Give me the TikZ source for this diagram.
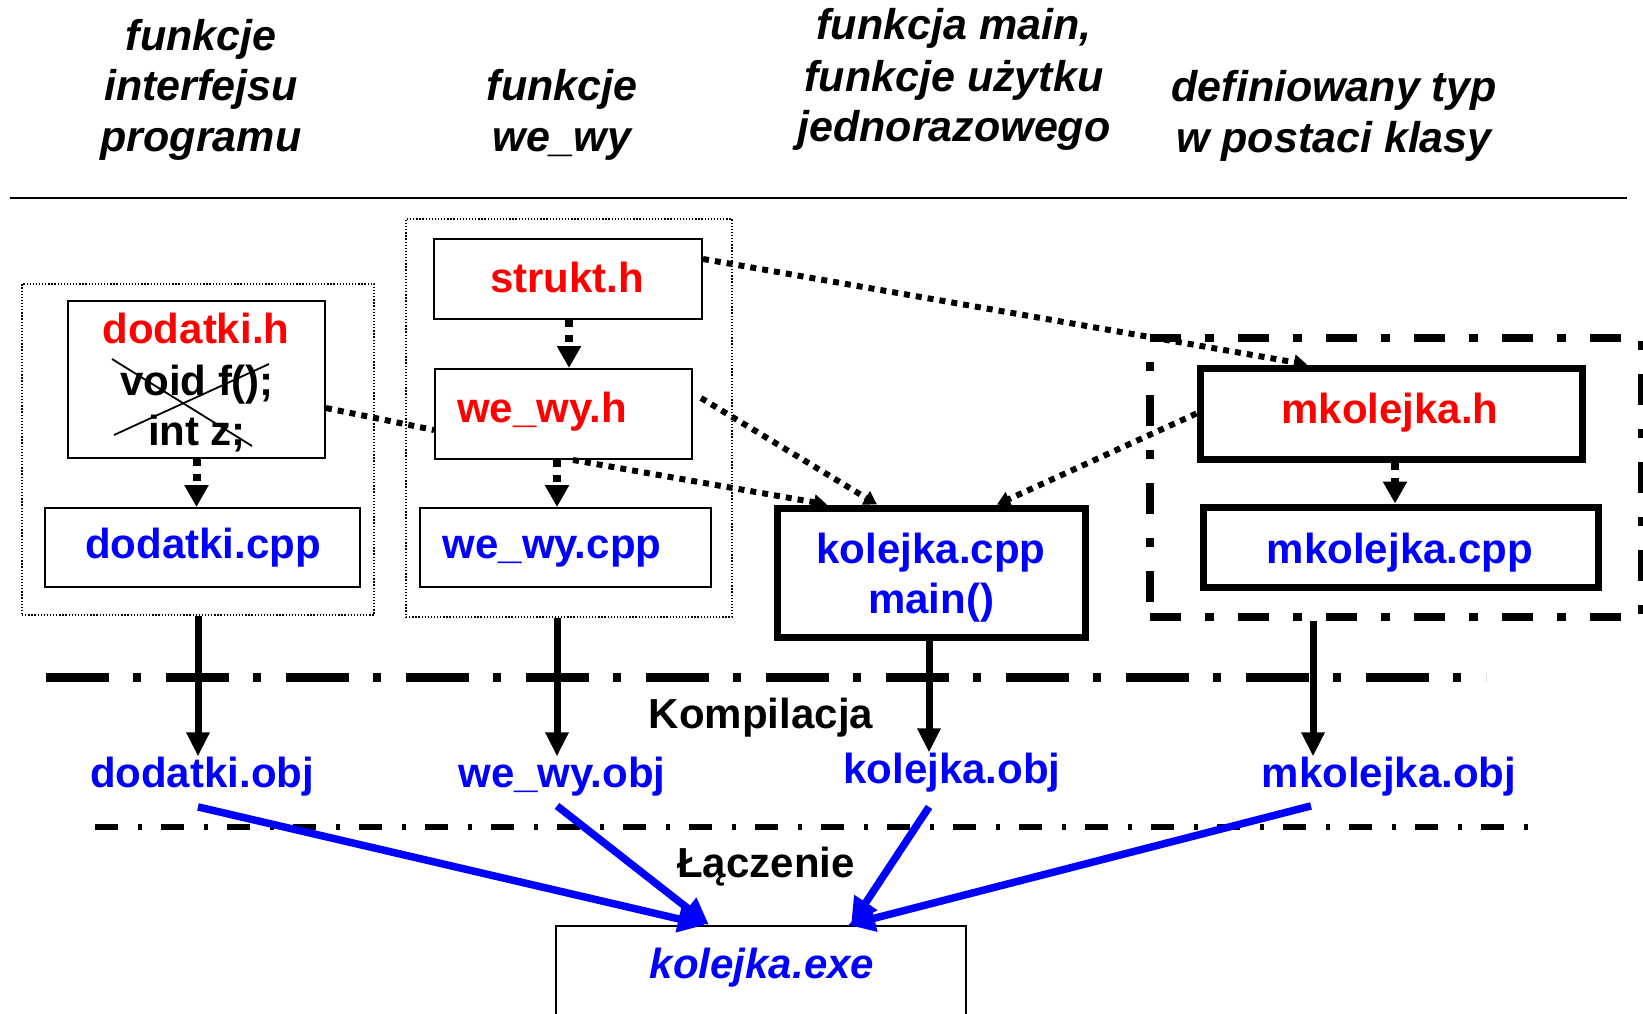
\documentclass[tikz,border=0pt]{standalone}
\usepackage{fontspec}
\setmainfont{Liberation Sans}
\usetikzlibrary{arrows.meta,calc}
\definecolor{fred}{RGB}{255,0,0}
\definecolor{fblue}{RGB}{0,0,255}
\begin{document}
\begin{tikzpicture}[x=1pt,y=-1pt,
  box/.style={draw=black, line width=2pt, rectangle, inner sep=0pt},
  thickbox/.style={draw=black, line width=7pt, rectangle, inner sep=0pt},
  grp/.style={draw=black, line width=1.2pt, dash pattern=on 1.3pt off 1.8pt, rectangle, inner sep=0pt},
  dashgrp/.style={draw=black, line width=8pt, dash pattern=on 31pt off 24pt on 9pt off 24pt, rectangle, inner sep=0pt},
  lbl/.style={anchor=base, inner sep=0pt, font=\fontsize{42}{48}\selectfont\bfseries},
  hdr/.style={anchor=base, inner sep=0pt, font=\fontsize{43}{50}\selectfont\bfseries\itshape},
  vdot/.style={line width=8pt, dash pattern=on 7pt off 8pt, -{Triangle[length=22pt,width=23pt]}},
  ddot/.style={line width=6pt, dash pattern=on 6pt off 6pt},
  ddarr/.style={ddot, -{Triangle[length=13pt,width=15pt]}},
  comp/.style={line width=7pt, -{Triangle[length=24pt,width=22pt]}},
  link/.style={draw=fblue, line width=7.5pt, -{Triangle[length=27pt,width=26pt]}},
]
\clip (0,0) rectangle (1643,1014);
\fill[white] (0,0) rectangle (1643,1014);

% headers
\node[hdr] (h1a) at (201,51) {funkcje};
\node[hdr] (h1b) at (201,101) {interfejsu};
\node[hdr] (h1c) at (201,151) {programu};
\node[hdr] (h2a) at (562,101) {funkcje};
\node[hdr] (h2b) at (562,151) {we\_wy};
\node[hdr] (h3a) at (954,40) {funkcja main,};
\node[hdr] (h3b) at (954,92) {funkcje użytku};
\node[hdr] (h3c) at (954,142) {jednorazowego};
\node[hdr] (h4a) at (1334,102) {definiowany typ};
\node[hdr] (h4b) at (1334,152) {w postaci klasy};
\coordinate (topL) at (10,198);
\coordinate (topR) at (1627,198);
\draw[line width=2.5pt] (topL) -- (topR);

% group boxes
\node[grp, minimum width=352pt, minimum height=331pt] (g1) at (198,449.5) {};
\node[grp, minimum width=326pt, minimum height=398pt] (g2) at (569,418) {};
\node[dashgrp, minimum width=492pt, minimum height=279pt] (g3) at (1396,477.5) {};

% boxes
\node[box, minimum width=257pt, minimum height=157pt] (dh) at (196.5,379.5) {};
\node[box, minimum width=315pt, minimum height=79pt] (dc) at (202.5,547.5) {};
\node[box, minimum width=268pt, minimum height=80pt] (sh) at (568,279) {};
\node[box, minimum width=257pt, minimum height=90pt] (wh) at (563.5,414) {};
\node[box, minimum width=291pt, minimum height=79pt] (wc) at (565.5,547.5) {};
\node[thickbox, minimum width=308pt, minimum height=129pt] (kc) at (931,572.5) {};
\node[thickbox, minimum width=382pt, minimum height=91pt] (mh) at (1391,413.5) {};
\node[thickbox, minimum width=395pt, minimum height=80pt] (mc) at (1400.5,547) {};
\node[box, minimum width=410pt, minimum height=120pt] (ex) at (761,986) {};

% box texts
\node[lbl, text=fred] (dhT) at (196,343) {dodatki.h};
\node[lbl] (dhV) at (197,395) {void f();};
\node[lbl] (dhI) at (197,445) {int z;};
\draw[line width=1.8pt] (112,359) -- (252,446);
\draw[line width=1.8pt] (114,435) -- (269,364);
\node[lbl, text=fblue] (dcT) at (203,558) {dodatki.cpp};
\node[lbl, text=fred] (shT) at (567,292) {strukt.h};
\node[lbl, text=fred] (whT) at (542,422) {we\_wy.h};
\node[lbl, text=fblue] (wcT) at (552,558) {we\_wy.cpp};
\node[lbl, text=fblue] (kcT) at (931,563) {kolejka.cpp};
\node[lbl, text=fblue] (kcM) at (931,613) {main()};
\node[lbl, text=fred] (mhT) at (1390,423) {mkolejka.h};
\node[lbl, text=fblue] (mcT) at (1400,563) {mkolejka.cpp};

% phase lines
\coordinate (cL) at (46,677);
\coordinate (cR) at (1486,677);
\draw[line width=9pt, dash pattern=on 63pt off 24pt on 8pt off 25pt] (cL) -- (cR);
\coordinate (lL) at (95,827);
\coordinate (lR) at (1528,827);
\draw[line width=5.5pt, dash pattern=on 23pt off 20pt on 4pt off 19pt] (lL) -- (lR);
\node[lbl] (komp) at (761,728) {Kompilacja};
\node[lbl] (lacz) at (766,877) {Łączenie};

% obj texts
\node[lbl, text=fblue] (dobj) at (202,787) {dodatki.obj};
\node[lbl, text=fblue] (wobj) at (562,787) {we\_wy.obj};
\node[lbl, text=fblue] (kobj) at (952,783) {kolejka.obj};
\node[lbl, text=fblue] (mobj) at (1389,787) {mkolejka.obj};
\node[lbl, text=fblue, font=\fontsize{42}{48}\selectfont\bfseries\itshape] (exT) at (762,978) {kolejka.exe};

% dotted include arrows
\draw[vdot] (dh.south) -- (dh.south |- dc.north);
\draw[vdot] ([xshift=1pt]sh.south) -- ([xshift=1pt]sh.south |- wh.north);
\draw[vdot] ([xshift=-6.5pt]wh.south) -- ([xshift=-6.5pt]wh.south |- wc.north);
\draw[vdot] ([xshift=4pt]mh.south) -- ([xshift=4pt]mh.south |- mc.north);

\draw[ddot] ([yshift=-28.5pt]dh.east) -- ([yshift=-16pt]wh.west);
\draw[ddarr] ([yshift=20pt]sh.east) -- ([xshift=-84pt]mh.north);
\draw[ddarr] ([xshift=8pt,yshift=16pt]wh.east) -- ([xshift=-54pt]kc.north);
\draw[ddarr] ([xshift=9.5pt]wh.south) -- ([xshift=-104pt]kc.north);
\draw[ddarr] (mh.west) -- ([xshift=66pt]kc.north);

% compilation arrows
\draw[comp] (g1.south) -- (g1.south |- dobj.north);
\draw[comp] ([xshift=-12pt]g2.south) -- ([xshift=-12pt]g2.south |- wobj.north);
\draw[comp] ([xshift=-2pt]kc.south) -- ([xshift=-2pt]kc.south |- kobj.north);
\draw[comp] ([xshift=-83pt]g3.south) -- ([xshift=-83pt]g3.south |- mobj.north);

% linking arrows
\draw[link] ([xshift=-4pt,yshift=-11pt]dobj.south) -- ([xshift=-56pt]ex.north);
\draw[link] ([xshift=-5pt,yshift=-10pt]wobj.south) -- ([xshift=-52pt]ex.north);
\draw[link] ([xshift=-23pt,yshift=-15pt]kobj.south) -- ([xshift=90pt]ex.north);
\draw[link] ([xshift=-78pt,yshift=-10pt]mobj.south) -- ([xshift=87pt]ex.north);
\end{tikzpicture}
\end{document}
